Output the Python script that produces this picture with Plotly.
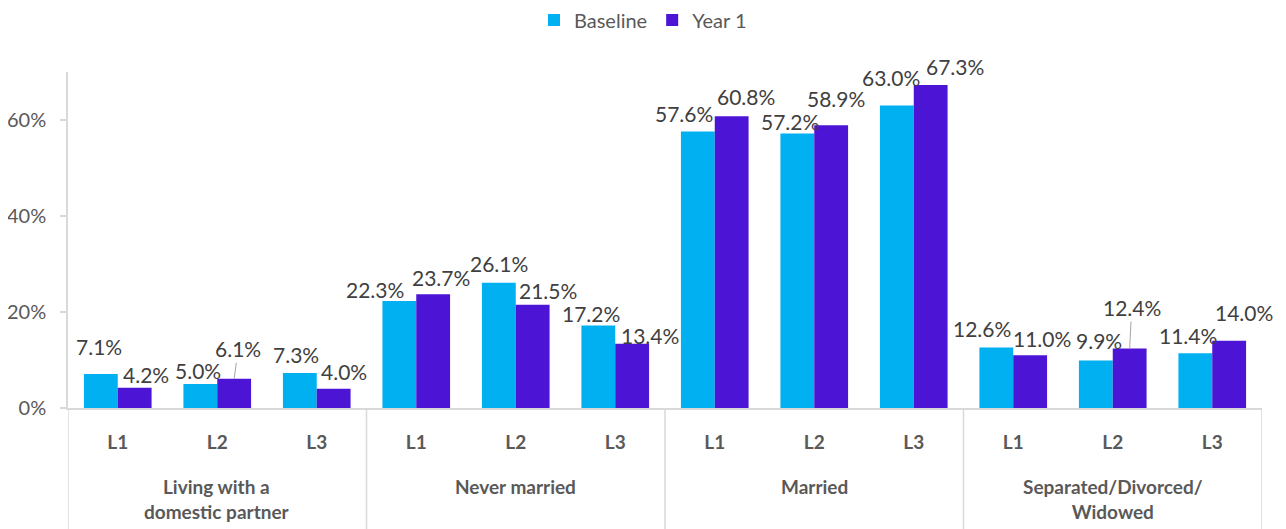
import plotly.graph_objects as go

# data
groups = ["Living with a<br>domestic partner", "Never married", "Married", "Separated/Divorced/<br>Widowed"]
levels = ["L1", "L2", "L3"]
baseline = [7.1, 5.0, 7.3, 22.3, 26.1, 17.2, 57.6, 57.2, 63.0, 12.6, 9.9, 11.4]
year1 = [4.2, 6.1, 4.0, 23.7, 21.5, 13.4, 60.8, 58.9, 67.3, 11.0, 12.4, 14.0]
y_ticks = [0, 20, 40, 60]

# label nudges in pixels (dx, dy), mimicking the hand-placed Excel labels
base_nudge = [(-2, -27), (-2, -14), (-4, -18), (-24, -11), (0, -19), (-7, -12),
              (-14, -18), (-7, -12), (-6, -28), (-14, -19), (3, -20), (-7, -18)]
year_nudge = [(11, -13), (4, -30), (10, -17), (8, -17), (15, -14), (18, -8),
              (14, -20), (5, -27), (24, -18), (12, -17), (2, -41), (15, -28)]
leader = {1, 10}  # year-1 labels drawn with a leader line

FONT = "Lato"
BLUE = "#00B0F0"
PURPLE = "#4C14D4"
GRID = "#D9D9D9"

n = len(baseline)
xs = list(range(n))
ticktext = ["<b>%s</b>" % levels[i % 3] for i in xs]

fig = go.Figure()
fig.add_trace(go.Bar(x=xs, y=baseline, name="Baseline", marker=dict(color=BLUE, line=dict(width=0))))
fig.add_trace(go.Bar(x=xs, y=year1, name="Year 1", marker=dict(color=PURPLE, line=dict(width=0))))

half = (1 - 0.32) / 4  # offset of each bar centre from the category centre
label_font = dict(family=FONT, size=21, color="#404040")

annotations = []
for i in xs:
    dx, dy = base_nudge[i]
    annotations.append(dict(x=i - half, y=baseline[i], xref="x", yref="y", text="%.1f%%" % baseline[i],
                            showarrow=False, xshift=dx, yshift=-dy, font=label_font))
    dx, dy = year_nudge[i]
    if i in leader:
        annotations.append(dict(x=i + half, y=year1[i], xref="x", yref="y", text="%.1f%%" % year1[i],
                                showarrow=True, arrowhead=0, arrowwidth=1, arrowcolor="#A6A6A6",
                                ax=dx, ay=dy, standoff=0, font=label_font))
    else:
        annotations.append(dict(x=i + half, y=year1[i], xref="x", yref="y", text="%.1f%%" % year1[i],
                                showarrow=False, xshift=dx, yshift=-dy, font=label_font))

# group labels under the level ticks
for g, name in enumerate(groups):
    annotations.append(dict(x=g * 3 + 1, y=0, xref="x", yref="paper", yanchor="top",
                            text="<b>%s</b>" % name, showarrow=False, yshift=-65,
                            font=dict(family=FONT, size=19, color="#595959")))

# group dividers running down through the label area
shapes = []
for b in [-0.5, 2.5, 5.5, 8.5, 11.5]:
    shapes.append(dict(type="line", xref="x", yref="paper", x0=b, x1=b, y0=0, y1=-0.4,
                       line=dict(color=GRID, width=1.5)))

# the page body has an 8px margin, so the figure is sized to sit inside the window
fig.update_layout(
    width=1270, height=521,
    barmode="group", bargap=0.32, bargroupgap=0,
    plot_bgcolor="white", paper_bgcolor="white",
    margin=dict(l=60, r=16, t=64, b=121),
    font=dict(family=FONT, size=20, color="#595959"),
    legend=dict(orientation="h", xref="container", yref="container", x=0.5, xanchor="center",
                y=0.977, yanchor="middle", font=dict(family=FONT, size=20, color="#595959"),
                itemwidth=30, traceorder="normal"),
    xaxis=dict(range=[-0.5, 11.5], tickvals=xs, ticktext=ticktext, showgrid=False, zeroline=False,
               showline=True, linecolor=GRID, linewidth=1.5, ticks="", ticklabelstandoff=16,
               automargin=False, tickfont=dict(family=FONT, size=19, color="#595959")),
    yaxis=dict(range=[0, 70], tickvals=y_ticks, ticktext=["%d%%" % v for v in y_ticks],
               showgrid=False, zeroline=False, automargin=False, ticklabelstandoff=10,
               showline=True, linecolor=GRID, linewidth=1.5, ticks="outside", ticklen=6,
               tickcolor=GRID, tickwidth=1.5, tickfont=dict(family=FONT, size=20, color="#595959")),
    annotations=annotations,
    shapes=shapes,
)

fig.write_html("out.html")
